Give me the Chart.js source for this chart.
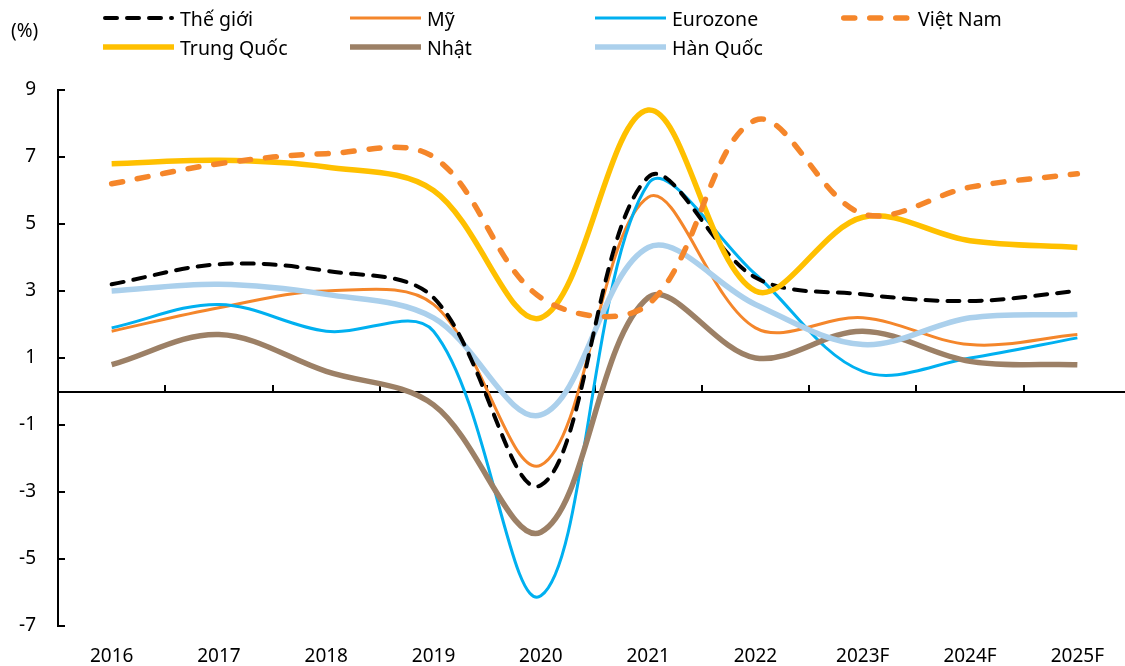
<!DOCTYPE html>
<html>
<head>
<meta charset="utf-8">
<script src="https://cdn.jsdelivr.net/npm/chart.js@4.4.0/dist/chart.umd.min.js"></script>
<style>
  html, body { margin: 0; padding: 0; background: #fff; overflow: hidden; }
  #wrap { position: relative; width: 1125px; height: 666px; overflow: hidden; }
  #chart { position: absolute; left: 0; top: 0; }
  #unit { position: absolute; left: 11px; top: 18px; font: 19px 'Noto Sans'; color: #000; line-height: 24px; }
  .leg { position: absolute; display: flex; align-items: center; height: 24px; font: 19.5px 'Noto Sans'; color: #000; white-space: nowrap; }
  .leg svg { display: block; }
  .leg span { margin-left: 6px; }
</style>
</head>
<body>
<div id="wrap">
  <canvas id="chart" width="1131" height="666"></canvas>
  <div id="unit">(%)</div>
  <div id="legend"></div>
</div>
<script>
const categories = ['2016', '2017', '2018', '2019', '2020', '2021', '2022', '2023F', '2024F', '2025F'];
const theGioi   = [3.2, 3.8, 3.6, 2.8, -2.8, 6.4, 3.4, 2.9, 2.7, 3.0];
const my        = [1.8, 2.5, 3.0, 2.6, -2.2, 5.8, 1.9, 2.2, 1.4, 1.7];
const eurozone  = [1.9, 2.6, 1.8, 1.8, -6.1, 6.2, 3.5, 0.6, 1.0, 1.6];
const vietNam   = [6.2, 6.8, 7.1, 7.0, 2.8, 2.6, 8.1, 5.3, 6.1, 6.5];
const trungQuoc = [6.8, 6.9, 6.7, 6.0, 2.2, 8.4, 3.0, 5.2, 4.5, 4.3];
const nhat      = [0.8, 1.7, 0.6, -0.4, -4.2, 2.8, 1.0, 1.8, 0.9, 0.8];
const hanQuoc   = [3.0, 3.2, 2.9, 2.2, -0.7, 4.3, 2.6, 1.4, 2.2, 2.3];

const FONT = 'Noto Sans';

// zero line with upward ticks at band edges, and inward ticks on the value axis
const axisMarks = {
  id: 'axisMarks',
  beforeDatasetsDraw(chart) {
    const { ctx, chartArea, scales: { x, y } } = chart;
    const y0 = Math.round(y.getPixelForValue(0));
    ctx.save();
    ctx.strokeStyle = '#000';
    ctx.lineWidth = 2;
    ctx.beginPath();
    ctx.moveTo(chartArea.left, y0);
    ctx.lineTo(chartArea.right, y0);
    for (let i = 1; i < categories.length; i++) {
      const px = Math.round((x.getPixelForValue(i - 1) + x.getPixelForValue(i)) / 2);
      ctx.moveTo(px, y0);
      ctx.lineTo(px, y0 - 7);
    }
    y.ticks.forEach(t => {
      const py = Math.round(y.getPixelForValue(t.value));
      ctx.moveTo(chartArea.left, py);
      ctx.lineTo(chartArea.left + 7, py);
    });
    ctx.stroke();
    ctx.restore();
  }
};

function series(label, data, color, width, dash, order) {
  return {
    label, data,
    borderColor: color,
    backgroundColor: color,
    borderWidth: width,
    borderDash: dash,
    borderCapStyle: dash.length ? 'round' : 'butt',
    borderJoinStyle: 'round',
    pointRadius: 0,
    tension: 0.35,
    fill: false,
    order
  };
}

const datasets = [
  series('Thế giới', theGioi, '#000000', 4, [12, 10], 2),
  series('Mỹ', my, '#F4862B', 3, [], 6),
  series('Eurozone', eurozone, '#00B0F0', 3, [], 5),
  series('Việt Nam', vietNam, '#F5862A', 5.5, [11, 15], 0),
  series('Trung Quốc', trungQuoc, '#FFC000', 5.5, [], 1),
  series('Nhật', nhat, '#9C8066', 5.5, [], 4),
  series('Hàn Quốc', hanQuoc, '#ABD0EC', 5.5, [], 3)
];

new Chart(document.getElementById('chart'), {
  type: 'line',
  data: { labels: categories, datasets },
  options: {
    responsive: false,
    animation: false,
    layout: { padding: { top: 90, left: 0, right: 0, bottom: 0 } },
    plugins: { legend: { display: false }, tooltip: { enabled: false } },
    scales: {
      x: {
        type: 'category',
        offset: true,
        grid: { display: false },
        border: { display: false },
        ticks: { color: '#000', font: { family: FONT, size: 19 }, padding: 11, maxRotation: 0, autoSkip: false },
        afterFit: s => { s.height = 40; }
      },
      y: {
        min: -7, max: 9,
        ticks: { stepSize: 2, color: '#000', font: { family: FONT, size: 19 }, padding: 22 },
        grid: { display: false, drawTicks: false },
        border: { display: true, color: '#000', width: 2 },
        afterFit: s => { s.width = 58; }
      }
    }
  },
  plugins: [axisMarks]
});

// legend laid out in fixed columns like the original
const legCols = [103, 350, 595, 841];
const legRows = [18, 47];
const legPlace = [[0, 0], [1, 0], [2, 0], [3, 0], [0, 1], [1, 1], [2, 1]];
const legend = document.getElementById('legend');
datasets.forEach((d, i) => {
  const [c, r] = legPlace[i];
  const el = document.createElement('div');
  el.className = 'leg';
  el.style.left = legCols[c] + 'px';
  el.style.top = (legRows[r] - 12) + 'px';
  const w = d.borderWidth;
  const inset = d.borderDash.length ? w / 2 : 0;
  el.innerHTML =
    `<svg width="71" height="12"><line x1="${inset}" y1="6" x2="${71 - inset}" y2="6" stroke="${d.borderColor}" stroke-width="${w}"` +
    ` stroke-linecap="round" stroke-dasharray="${d.borderDash.join(' ')}"/></svg>` +
    `<span>${d.label}</span>`;
  legend.appendChild(el);
});
</script>
</body>
</html>
